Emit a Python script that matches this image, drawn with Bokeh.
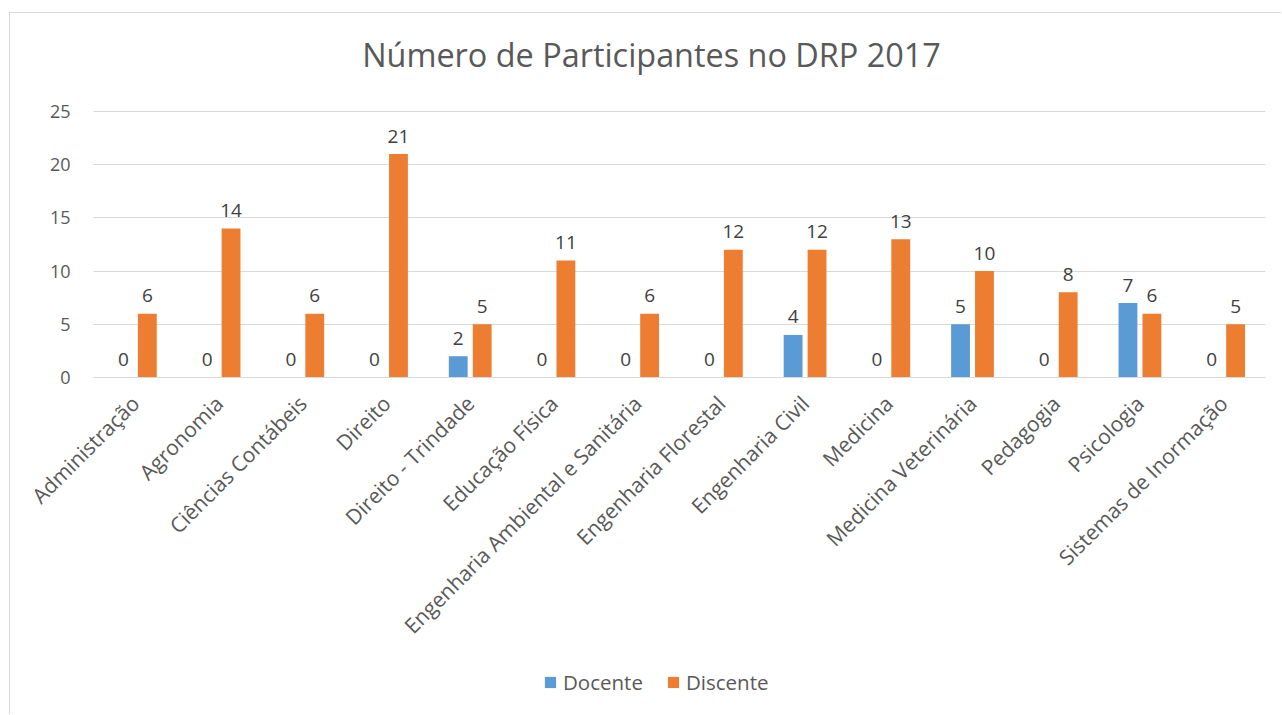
import math
from bokeh.plotting import figure
from bokeh.models import (ColumnDataSource, Legend, LegendItem, Range1d, Label,
                          FixedTicker)
from bokeh.transform import dodge
from bokeh.core.properties import value
from bokeh.embed import file_html
from bokeh.resources import INLINE

categories = ["Administração", "Agronomia", "Ciências Contábeis", "Direito",
              "Direito - Trindade", "Educação Física",
              "Engenharia Ambiental e Sanitária", "Engenharia Florestal",
              "Engenharia Civil", "Medicina", "Medicina Veterinária",
              "Pedagogia", "Psicologia", "Sistemas de Inormação"]
docente = [0, 0, 0, 0, 2, 0, 0, 0, 4, 0, 5, 0, 7, 0]
discente = [6, 14, 6, 21, 5, 11, 6, 12, 12, 13, 10, 8, 6, 5]
y_ticks = [0, 5, 10, 15, 20, 25]
title_text = "Número de Participantes no DRP 2017"

FONT = "Open Sans"
BLUE = "#5B9BD5"
ORANGE = "#ED7D31"
GRID = "#D9D9D9"
TXT = "#595959"

idx = list(range(len(categories)))
src = ColumnDataSource(dict(idx=idx, cat=categories, docente=docente,
                            discente=discente,
                            dl=[str(v) for v in docente],
                            sl=[str(v) for v in discente]))

W, H = 1272, 702
first_edge, last_edge = idx[0] - 0.5, idx[-1] + 0.5
# frame reaches further left than the first category so that rotated labels are not cut
p = figure(width=W, height=H, x_range=Range1d(first_edge - 0.872, last_edge),
           y_range=Range1d(-31.58, 34.21), output_backend="svg",
           toolbar_location=None,
           min_border_left=10, min_border_right=17, min_border_top=0,
           min_border_bottom=2)
p.styles = {"margin-top": "12px", "margin-left": "9px",
            "border-left": "1px solid #D9D9D9", "border-top": "1px solid #D9D9D9"}

p.outline_line_color = None
p.background_fill_color = "white"
p.border_fill_color = "white"
p.xgrid.grid_line_color = None

grid_ok = hasattr(p.ygrid[0], "cross_bounds")
if grid_ok:
    p.ygrid.grid_line_color = GRID
    p.ygrid.grid_line_width = 1
    p.ygrid.ticker = FixedTicker(ticks=y_ticks)
    p.ygrid.cross_bounds = (first_edge, last_edge)
else:
    p.ygrid.grid_line_color = None
    p.segment(x0=first_edge, x1=last_edge, y0=y_ticks, y1=y_ticks,
              line_color=GRID, line_width=1)

p.yaxis.fixed_location = first_edge
p.yaxis.ticker = FixedTicker(ticks=y_ticks)
p.yaxis.axis_line_color = None
p.yaxis.major_tick_line_color = None
p.yaxis.minor_tick_line_color = None
p.yaxis.major_tick_out = 0
p.yaxis.major_tick_in = 0
p.yaxis.major_label_text_font = FONT
p.yaxis.major_label_text_font_size = "18px"
p.yaxis.major_label_text_color = TXT
p.yaxis.major_label_standoff = 23

p.xaxis.fixed_location = 0
p.xaxis.bounds = (first_edge, last_edge)
p.xaxis.ticker = FixedTicker(ticks=idx)
p.xaxis.major_label_overrides = {i: c for i, c in zip(idx, categories)}
p.xaxis.axis_line_color = GRID
p.xaxis.major_tick_line_color = None
p.xaxis.minor_tick_line_color = None
p.xaxis.major_tick_out = 0
p.xaxis.major_tick_in = 0
p.xaxis.major_label_orientation = math.pi / 4
p.xaxis.major_label_text_font = FONT
p.xaxis.major_label_text_font_size = "21px"
p.xaxis.major_label_text_color = TXT
p.xaxis.major_label_standoff = 22

off = 0.143
bw = 0.225
r1 = p.vbar(x=dodge("idx", -off), top="docente", width=bw,
            source=src, fill_color=BLUE, line_color=None)
r2 = p.vbar(x=dodge("idx", off), top="discente", width=bw,
            source=src, fill_color=ORANGE, line_color=None)

p.text(x=dodge("idx", -off), y="docente", text="dl", source=src,
       text_font=value(FONT), text_font_size="19px", text_color="#404040",
       text_align="center", text_baseline="alphabetic", y_offset=-18)
p.text(x=dodge("idx", off), y="discente", text="sl", source=src,
       text_font=value(FONT), text_font_size="19px", text_color="#404040",
       text_align="center", text_baseline="alphabetic", y_offset=-18)

p.add_layout(Label(x=631, y=660, x_units="screen", y_units="screen",
                   text=title_text, text_font=FONT, text_font_size="32.4px",
                   text_color=TXT, text_align="center", text_baseline="middle"))

legend = Legend(items=[LegendItem(label="Docente", renderers=[r1]),
                       LegendItem(label="Discente", renderers=[r2])],
                orientation="horizontal", location=(523, 17),
                label_text_font=FONT, label_text_font_size="20.5px",
                label_text_color=TXT, glyph_width=14, glyph_height=14,
                label_standoff=6, spacing=23, padding=0, margin=0,
                border_line_color=None, background_fill_alpha=0)
p.add_layout(legend, "center")

open("out.html", "w").write(file_html(p, INLINE))
